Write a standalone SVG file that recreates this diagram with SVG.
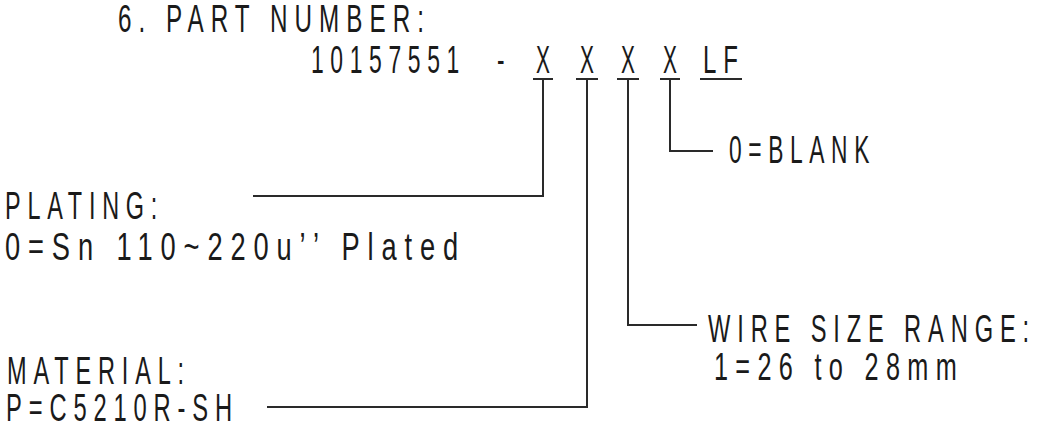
<svg xmlns="http://www.w3.org/2000/svg" width="1037" height="425" viewBox="0 0 1037 425">
<style>
  .t { font-family: "Liberation Sans", Arial, sans-serif; font-size: 38px; letter-spacing: 11px; fill: #1a1a1a; }
  .c { fill: none; stroke: #2a2a2a; stroke-width: 2; }
  .u { fill: none; stroke: #2a2a2a; stroke-width: 2; }
</style>
<rect width="1037" height="425" fill="#ffffff"/>
<g id="title">
  <text class="t" transform="translate(118,32) scale(0.633,1)" textLength="494.4" lengthAdjust="spacingAndGlyphs">6. PART NUMBER:</text>
</g>
<g id="part-number">
  <text class="t" transform="translate(311,73) scale(0.603,1)" textLength="257" lengthAdjust="spacingAndGlyphs">10157551</text>
  <text class="t" transform="translate(497,73) scale(0.592,1)" textLength="23.65" lengthAdjust="spacingAndGlyphs">-</text>
  <text class="t" transform="translate(536,73) scale(0.55,1)" textLength="36.35" lengthAdjust="spacingAndGlyphs">X</text>
  <text class="t" transform="translate(580,73) scale(0.55,1)" textLength="36.35" lengthAdjust="spacingAndGlyphs">X</text>
  <text class="t" transform="translate(621,73) scale(0.55,1)" textLength="36.35" lengthAdjust="spacingAndGlyphs">X</text>
  <text class="t" transform="translate(663,73) scale(0.55,1)" textLength="36.35" lengthAdjust="spacingAndGlyphs">X</text>
  <text class="t" transform="translate(703,73) scale(0.633,1)" textLength="66.35" lengthAdjust="spacingAndGlyphs">LF</text>
  <path class="u" d="M533,79 H553 M576,79 H598 M617,79 H639 M660,79 H680 M700,79 H742"/>
</g>
<g id="blank">
  <text class="t" transform="translate(729,163) scale(0.6,1)" textLength="244.9" lengthAdjust="spacingAndGlyphs">0=BLANK</text>
</g>
<g id="plating">
  <text class="t" transform="translate(5,219) scale(0.609,1)" textLength="261.2" lengthAdjust="spacingAndGlyphs">PLATING:</text>
  <text class="t" transform="translate(5,260) scale(0.712,1)" textLength="647.6" lengthAdjust="spacingAndGlyphs">0=Sn 110~220u’’ Plated</text>
</g>
<g id="wire-size">
  <text class="t" transform="translate(708,342) scale(0.623,1)" textLength="526.5" lengthAdjust="spacingAndGlyphs">WIRE SIZE RANGE:</text>
  <text class="t" transform="translate(714,380) scale(0.665,1)" textLength="376" lengthAdjust="spacingAndGlyphs">1=26 to 28mm</text>
</g>
<g id="material">
  <text class="t" transform="translate(7,384) scale(0.614,1)" textLength="299.6" lengthAdjust="spacingAndGlyphs">MATERIAL:</text>
  <text class="t" transform="translate(6,421) scale(0.624,1)" textLength="373.4" lengthAdjust="spacingAndGlyphs">P=C5210R-SH</text>
</g>
<g id="connectors">
  <path class="c" d="M543,80 V196 H253"/>
  <path class="c" d="M587,80 V407 H267"/>
  <path class="c" d="M628,80 V325 H697"/>
  <path class="c" d="M670,80 V151 H713"/>
</g>
</svg>
